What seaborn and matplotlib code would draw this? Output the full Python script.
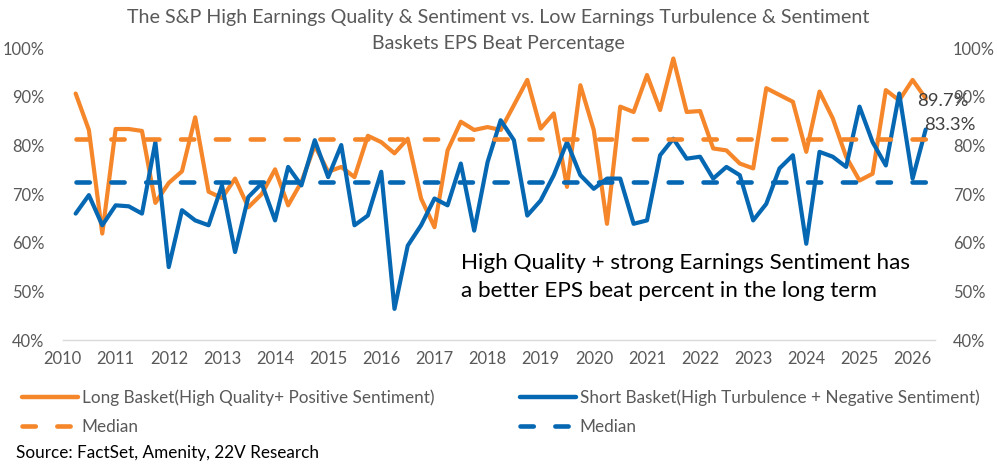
import numpy as np
import pandas as pd
import matplotlib
matplotlib.use("Agg")
import matplotlib.pyplot as plt
import matplotlib.dates as mdates
from matplotlib.lines import Line2D
from matplotlib.ticker import FixedLocator, FuncFormatter
import seaborn as sns

# ---------------- data ----------------
quarters = pd.period_range("2010Q1", "2026Q1", freq="Q").to_timestamp(how="end").normalize()

long_basket = [90.7, 83.2, 61.9, 83.4, 83.4, 83.0, 68.2, 72.3, 74.7, 85.8,
               70.5, 69.2, 73.2, 67.3, 70.0, 75.1, 67.7, 72.5, 80.0, 74.6,
               75.6, 73.5, 82.0, 80.7, 78.4, 81.4, 69.1, 63.2, 79.0, 84.9,
               83.2, 83.8, 83.2, 88.3, 93.5, 83.5, 86.6, 71.5, 92.4, 83.2,
               63.9, 88.0, 86.9, 94.5, 87.3, 97.9, 86.9, 87.1, 79.4, 79.0,
               76.3, 75.3, 91.8, 90.4, 89.0, 78.7, 91.1, 85.6, 77.7, 72.8,
               74.2, 91.4, 89.3, 93.5, 89.7]

short_basket = [66.0, 69.8, 63.6, 67.7, 67.5, 66.0, 80.7, 55.0, 66.7, 64.6,
                63.6, 71.8, 58.1, 69.4, 72.2, 64.6, 75.6, 71.8, 81.1, 73.5,
                80.1, 63.6, 65.6, 74.6, 46.4, 59.4, 63.6, 69.1, 67.7, 76.3,
                62.5, 76.6, 85.2, 81.1, 65.6, 68.7, 73.9, 80.7, 73.9, 71.1,
                73.2, 73.2, 63.9, 64.6, 78.0, 81.4, 77.3, 77.7, 73.2, 75.6,
                73.9, 64.6, 68.0, 75.3, 78.0, 59.8, 78.7, 77.7, 75.6, 88.0,
                80.7, 75.9, 90.7, 73.2, 83.3]

long_median = 81.4
short_median = 72.4

y_ticks = [40, 50, 60, 70, 80, 90, 100]

long_label = "Long Basket(High Quality+ Positive Sentiment)"
short_label = "Short Basket(High Turbulence + Negative Sentiment)"
median_label = "Median"
title_lines = ["The S&P High Earnings Quality & Sentiment vs. Low Earnings Turbulence & Sentiment",
               "Baskets EPS Beat Percentage"]
note_text = "High Quality + strong Earnings Sentiment has\na better EPS beat percent in the long term"
source_text = "Source: FactSet, Amenity, 22V Research"

# ---------------- style ----------------
ORANGE = "#F5862A"
BLUE = "#0668B3"
GREY = "#595959"

sns.set_theme(style="white")
plt.rcParams["font.family"] = ["Lato", "DejaVu Sans"]

W, H = 997, 465
fig = plt.figure(figsize=(W / 100, H / 100), dpi=100)
fig.patch.set_facecolor("white")
ax = fig.add_axes([62.7 / W, 1 - 340 / H, (935 - 62.7) / W, (340 - 48.3) / H])

df = pd.DataFrame({
    "quarter": quarters,
    "long": long_basket,
    "short": short_basket,
    "long_med": [long_median] * len(quarters),
    "short_med": [short_median] * len(quarters),
})

solid_kw = dict(lw=3.0, solid_joinstyle="round", solid_capstyle="round")
dash_kw = dict(lw=3.3, linestyle=(0, (2.9, 4.7)), dash_capstyle="round")

sns.lineplot(data=df, x="quarter", y="long", ax=ax, color=ORANGE, **solid_kw)
sns.lineplot(data=df, x="quarter", y="short", ax=ax, color=BLUE, **solid_kw)
sns.lineplot(data=df, x="quarter", y="long_med", ax=ax, color=ORANGE, **dash_kw)
sns.lineplot(data=df, x="quarter", y="short_med", ax=ax, color=BLUE, **dash_kw)

ax.set_xlim(pd.Timestamp("2010-01-01"), pd.Timestamp("2026-06-03"))
ax.set_ylim(40, 100)
ax.set_xlabel("")
ax.set_ylabel("")

pct = FuncFormatter(lambda v, p: f"{int(v)}%")
ax.yaxis.set_major_locator(FixedLocator(y_ticks))
ax.yaxis.set_major_formatter(pct)
ax.xaxis.set_major_locator(mdates.YearLocator(1))
ax.xaxis.set_major_formatter(mdates.DateFormatter("%Y"))

for s in ["top", "left", "right"]:
    ax.spines[s].set_visible(False)
ax.spines["bottom"].set_color("#D9D9D9")
ax.spines["bottom"].set_linewidth(1.0)
ax.tick_params(axis="x", direction="out", length=3.2, width=0.8, color="#D9D9D9",
               labelsize=11.9, labelcolor=GREY, pad=5)
ax.tick_params(axis="y", length=0, labelsize=11.9, labelcolor=GREY, pad=13)
ax.grid(False)

ax2 = ax.twinx()
ax2.set_ylim(40, 100)
ax2.yaxis.set_major_locator(FixedLocator(y_ticks))
ax2.yaxis.set_major_formatter(pct)
ax2.tick_params(axis="y", length=0, labelsize=11.9, labelcolor=GREY, pad=13)
for s in ax2.spines.values():
    s.set_visible(False)
ax2.grid(False)

# data labels at last points
ax.annotate(f"{long_basket[-1]:.1f}%", xy=(quarters[-1], long_basket[-1]),
            xytext=(-9, -3), textcoords="offset pixels", ha="left", va="center",
            fontsize=13.3, color="#404040")
ax.annotate(f"{short_basket[-1]:.1f}%", xy=(quarters[-1], short_basket[-1]),
            xytext=(-2, 4), textcoords="offset pixels", ha="left", va="center",
            fontsize=13.3, color="#404040")

# titles and texts
fig.text(0.5, 1 - 18 / H, title_lines[0], ha="center", va="center", fontsize=14.1, color=GREY)
fig.text(0.5, 1 - 44 / H, title_lines[1], ha="center", va="center", fontsize=14.1, color=GREY)
fig.text(461 / W, 1 - 277 / H, note_text, ha="left", va="center", fontsize=16.2,
         linespacing=1.5, color="black")
fig.text(16 / W, 1 - 453 / H, source_text, ha="left", va="center", fontsize=12.3, color="black")

handles = [
    Line2D([], [], color=ORANGE, lw=3.2, solid_capstyle="round"),
    Line2D([], [], color=ORANGE, lw=3.3, linestyle=(0, (2.9, 4.7)), dash_capstyle="round"),
    Line2D([], [], color=BLUE, lw=3.2, solid_capstyle="round"),
    Line2D([], [], color=BLUE, lw=3.3, linestyle=(0, (2.9, 4.7)), dash_capstyle="round"),
]
labels = [long_label, median_label, short_label, median_label]
fig.legend(handles, labels, ncol=2, loc="upper left", bbox_to_anchor=(22 / W, 1 - 389 / H),
           frameon=False, fontsize=12.3, labelcolor=GREY, handlelength=3.3,
           handletextpad=0.2, columnspacing=5.0, labelspacing=0.8,
           borderpad=0, borderaxespad=0)

fig.savefig("out.png", dpi=100, facecolor="white")
